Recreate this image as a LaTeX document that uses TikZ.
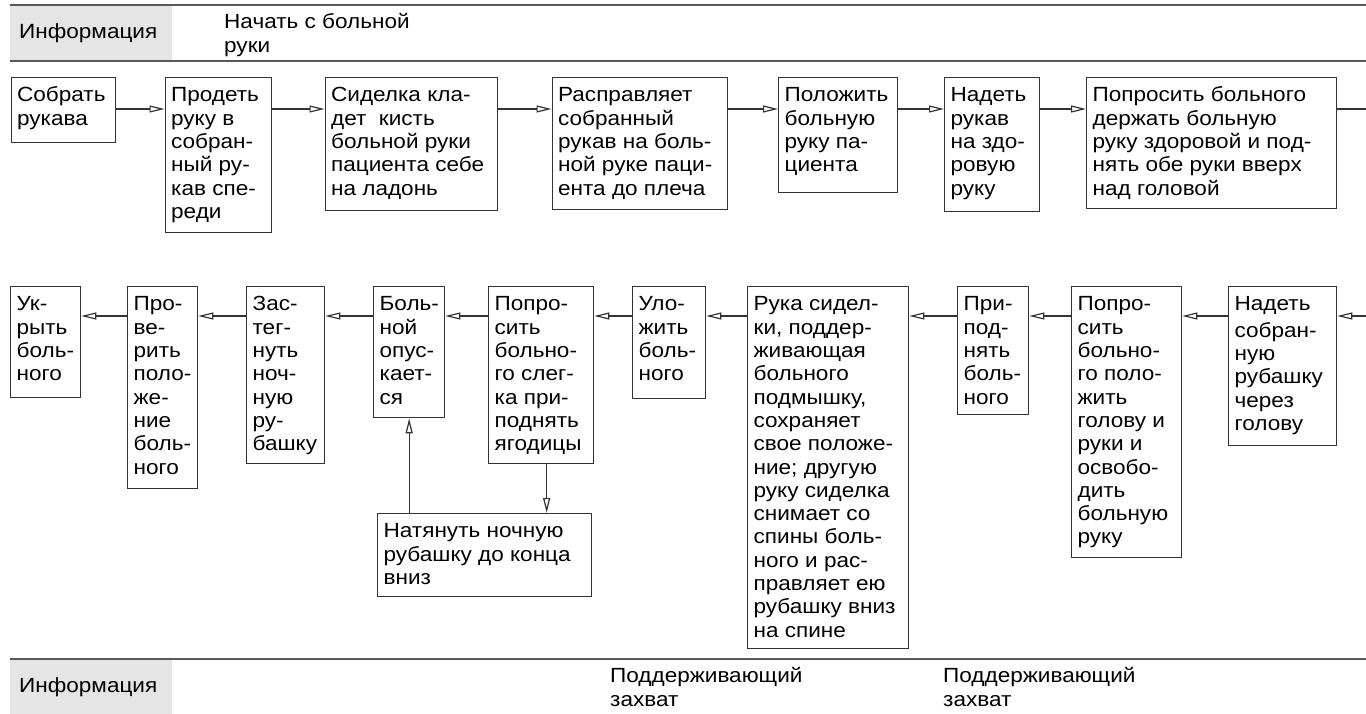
\documentclass[tikz,border=0pt]{standalone}
\usepackage{fontspec}
\setmainfont{Liberation Sans}[FakeStretch=1.1]
\usetikzlibrary{arrows.meta}
\newcommand{\steptext}[3]{\parbox[b][\dimexpr#2pt-16pt\relax][t]{\dimexpr#1pt-12pt\relax}{\raggedright\exhyphenpenalty=10000\hyphenpenalty=10000\strut#3}}

\begin{document}
\begin{tikzpicture}[x=1pt,y=-1pt,
	every node/.style={font=\fontsize{20.5}{23.3}\selectfont},
	stepbox/.style={draw=black!80, line width=1.3pt, anchor=north west, inner xsep=6pt, inner ysep=8pt},
	flow/.style={draw=black!80, line width=1.2pt, -{Triangle[open,length=15pt,width=7pt]}},
	plain/.style={draw=black!80, line width=1.2pt},
	rule/.style={draw=black!65, line width=2pt},
	bandtext/.style={anchor=north west, inner sep=0pt, align=left}]
	\useasboundingbox (0,0) rectangle (1366,714);

	% bands
	\fill [black!10] (10,5) rectangle (172,61);
	\fill [black!10] (10,659) rectangle (172,714);
	\draw [rule] (10,5) -- (1366,5);
	\draw [rule] (10,61) -- (1366,61);
	\draw [rule] (10,659) -- (1366,659);
	\node [anchor=west, inner sep=0pt] (infotop) at (19,33) {Информация};
	\node [bandtext] (start) at (224,13.5) {Начать с больной\\руки};
	\node [anchor=west, inner sep=0pt] (infobot) at (19,687) {Информация};
	\node [bandtext] (grip1) at (610,667.5) {Поддерживающий\\захват};
	\node [bandtext] (grip2) at (943,667.5) {Поддерживающий\\захват};

	% top row
	\node [stepbox] (s1) at (10.5,77) {\steptext{104}{65}{Собрать\\рукава}};
	\node [stepbox] (s2) at (164.5,77) {\steptext{106.5}{155}{Продеть\\руку в\\собран-\\ный ру-\\кав спе-\\реди}};
	\node [stepbox] (s3) at (324.5,77) {\steptext{172.5}{133}{Сиделка кла-\\дет~ кисть\\больной руки\\пациента себе\\на ладонь}};
	\node [stepbox] (s4) at (551.5,77) {\steptext{175.5}{132}{Расправляет\\собранный\\рукав на боль-\\ной руке паци-\\ента до плеча}};
	\node [stepbox] (s5) at (778,77) {\steptext{119}{115}{Положить\\больную\\руку па-\\циента}};
	\node [stepbox] (s6) at (944,77) {\steptext{95}{134}{Надеть\\рукав\\на здо-\\ровую\\руку}};
	\node [stepbox] (s7) at (1086,77) {\steptext{250}{131}{Попросить больного\\держать больную\\руку здоровой и под-\\нять обе руки вверх\\над головой}};
	\coordinate (trow) at (0,109);
	\coordinate (tend) at (1366,109);
	\draw [flow] (s1.east |- trow) -- (s2.west |- trow);
	\draw [flow] (s2.east |- trow) -- (s3.west |- trow);
	\draw [flow] (s3.east |- trow) -- (s4.west |- trow);
	\draw [flow] (s4.east |- trow) -- (s5.west |- trow);
	\draw [flow] (s5.east |- trow) -- (s6.west |- trow);
	\draw [flow] (s6.east |- trow) -- (s7.west |- trow);
	\draw [plain] (s7.east |- trow) -- (tend);

	% bottom row
	\node [stepbox] (b1) at (10,286) {\steptext{70}{111}{Ук-\\рыть\\боль-\\ного}};
	\node [stepbox] (b2) at (127,286) {\steptext{70}{202}{Про-\\ве-\\рить\\поло-\\же-\\ние\\боль-\\ного}};
	\node [stepbox] (b3) at (246,286) {\steptext{78}{177}{Зас-\\тег-\\нуть\\ноч-\\ную\\ру-\\башку}};
	\node [stepbox] (b4) at (373,286) {\steptext{71}{131}{Боль-\\ной\\опус-\\кает-\\ся}};
	\node [stepbox] (b5) at (488,286) {\steptext{105}{177}{Попро-\\сить\\больно-\\го слег-\\ка при-\\поднять\\ягодицы}};
	\node [stepbox] (b6) at (632,286) {\steptext{73}{112}{Уло-\\жить\\боль-\\ного}};
	\node [stepbox] (b7) at (747,286) {\steptext{161}{362}{Рука сидел-\\ки, поддер-\\живающая\\больного\\подмышку,\\сохраняет\\свое положе-\\ние; другую\\руку сиделка\\снимает со\\спины боль-\\ного и рас-\\правляет ею\\рубашку вниз\\на спине}};
	\node [stepbox] (b8) at (957,286) {\steptext{71}{128}{При-\\под-\\нять\\боль-\\ного}};
	\node [stepbox] (b9) at (1071,286) {\steptext{110}{271}{Попро-\\сить\\больно-\\го поло-\\жить\\голову и\\руки и\\освобо-\\дить\\больную\\руку}};
	\node [stepbox] (b10) at (1228,286) {\steptext{108}{159}{\vspace*{3pt}Надеть\\собран-\\ную\\рубашку\\через\\голову}};
	\node [stepbox] (pull) at (377,513) {\steptext{214}{83}{Натянуть ночную\\рубашку до конца\\вниз}};
	\coordinate (brow) at (0,316);
	\coordinate (bend) at (1366,316);
	\draw [flow] (bend) -- (b10.east |- brow);
	\draw [flow] (b10.west |- brow) -- (b9.east |- brow);
	\draw [flow] (b9.west |- brow) -- (b8.east |- brow);
	\draw [flow] (b8.west |- brow) -- (b7.east |- brow);
	\draw [flow] (b7.west |- brow) -- (b6.east |- brow);
	\draw [flow] (b6.west |- brow) -- (b5.east |- brow);
	\draw [flow] (b5.west |- brow) -- (b4.east |- brow);
	\draw [flow] (b4.west |- brow) -- (b3.east |- brow);
	\draw [flow] (b3.west |- brow) -- (b2.east |- brow);
	\draw [flow] (b2.west |- brow) -- (b1.east |- brow);
	\draw [flow] ([xshift=5.5pt]b5.south) -- ([xshift=5.5pt]b5.south |- pull.north);
	\draw [flow] (b4.south |- pull.north) -- (b4.south);
\end{tikzpicture}
\end{document}
